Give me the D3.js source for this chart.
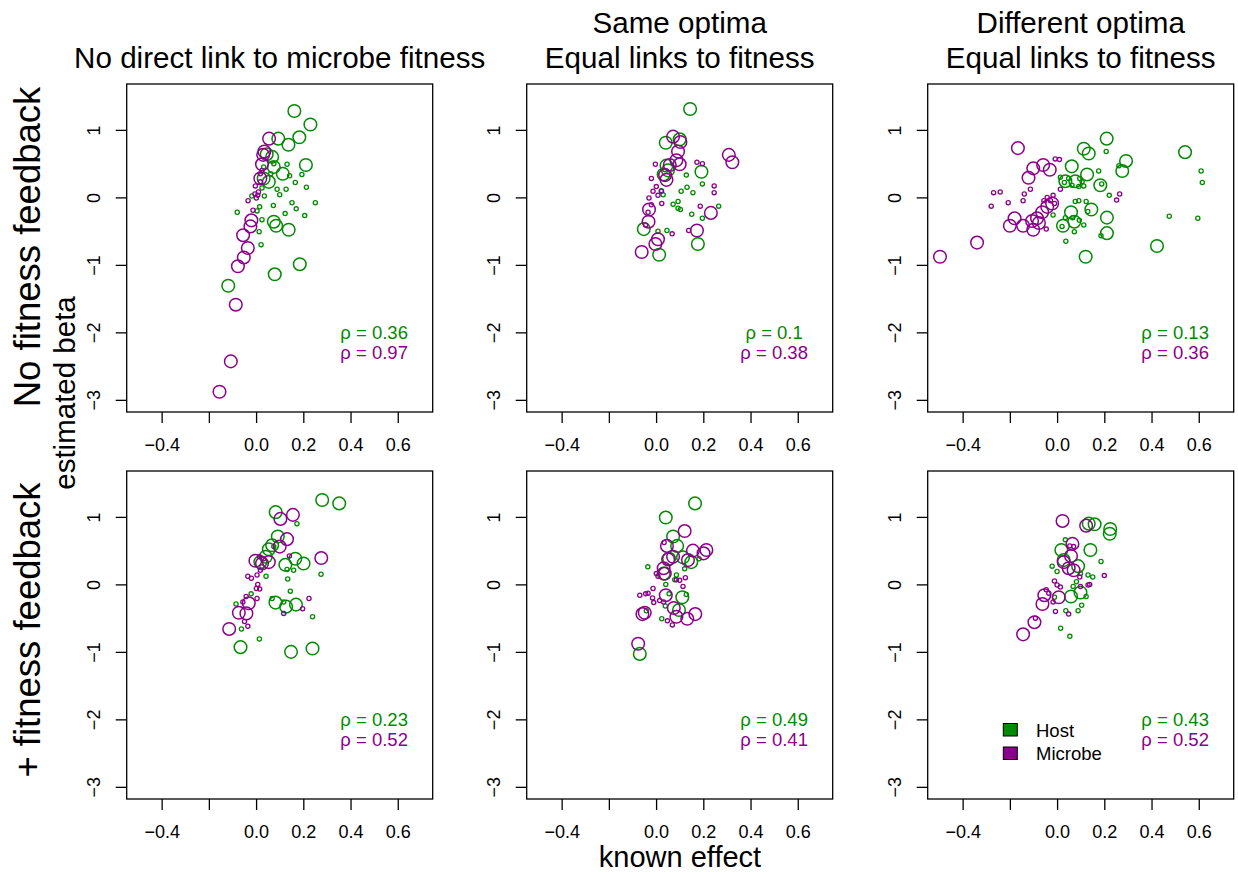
<!DOCTYPE html>
<html>
<head>
<meta charset="utf-8">
<script src="https://cdn.jsdelivr.net/npm/d3@7"></script>
<style>
  body { margin: 0; background: #fff; }
  svg { display: block; }
  text { font-family: "Liberation Sans", Arial, Helvetica, sans-serif; }
</style>
</head>
<body>
<svg id="chart" width="1238" height="872"></svg>
<script>
// Each point: [known effect, estimated beta, causal flag (1 = causal locus, 0 = other)]

// Row 1: no fitness feedback
const hostNoLink = [
  [0.162,1.28,1],[0.230,1.08,1],[0.183,0.89,1],[0.137,0.78,1],[0.094,0.87,1],[0.068,0.60,1],
  [0.045,0.64,1],[0.075,0.45,1],[0.211,0.48,1],[0.113,0.35,1],[0.032,0.28,1],[0.054,0.23,1],
  [0.075,-0.36,1],[0.085,-0.42,1],[0.138,-0.48,1],[0.185,-0.99,1],[0.079,-1.14,1],[-0.118,-1.31,1],
  [0.131,0.49,0],[0.075,0.50,0],[0.142,0.32,0],[0.194,0.34,0],[0.166,0.22,0],[0.213,0.15,0],
  [0.127,0.12,0],[0.089,0.12,0],[0.100,0.04,0],[0.035,0.02,0],[0.025,0.14,0],[-0.018,0.02,0],
  [0.152,-0.08,0],[0.251,-0.08,0],[0.170,-0.17,0],[0.073,-0.12,0],[0.123,-0.24,0],[0.206,-0.27,0],
  [-0.080,-0.22,0],[0.015,-0.14,0],[0.004,-0.20,0],[0.025,-0.33,0],[0.013,-0.51,0],[0.021,-0.70,0],
  [0.032,0.45,0],[0.062,0.35,0]
];
const microbeNoLink = [
  [0.055,0.87,1],[0.035,0.68,1],[0.030,0.63,1],[0.025,0.49,1],[0.018,0.28,1],[-0.020,-0.34,1],
  [-0.024,-0.43,1],[-0.055,-0.56,1],[-0.035,-0.75,1],[-0.052,-0.89,1],[-0.077,-1.02,1],[-0.086,-1.59,1],
  [-0.107,-2.43,1],[-0.155,-2.88,1],
  [0.025,0.40,0],[0.018,0.35,0],[-0.003,0.17,0],[0.007,0.03,0],[0.001,-0.01,0],[-0.034,-0.05,0],
  [-0.013,-0.19,0],[0.018,0.23,0],[0.010,0.08,0],[-0.005,0.05,0]
];
const hostSameOpt = [
  [0.144,1.31,1],[0.041,0.81,1],[0.100,0.86,1],[0.044,0.47,1],[0.032,0.34,1],[0.192,0.38,1],
  [-0.052,-0.47,1],[0.177,-0.69,1],[0.013,-0.85,1],[0.050,0.40,1],
  [0.128,0.33,0],[0.131,0.15,0],[0.106,0.09,0],[0.156,0.07,0],[0.196,0.20,0],[0.072,-0.10,0],
  [0.093,-0.06,0],[0.093,-0.16,0],[0.103,-0.18,0],[0.151,-0.25,0],[0.196,-0.31,0],[0.265,-0.13,0],
  [0.008,-0.50,0],[0.046,-0.49,0],[0.030,0.04,0],[0.022,0.10,0]
];
const microbeSameOpt = [
  [0.072,0.90,1],[0.103,0.82,1],[0.093,0.68,1],[0.086,0.55,1],[0.100,0.49,1],[0.058,0.48,1],
  [0.038,0.33,1],[0.044,0.26,1],[0.308,0.63,1],[0.323,0.52,1],[-0.030,-0.18,1],[-0.032,-0.36,1],
  [0.232,-0.23,1],[0.173,-0.49,1],[0.008,-0.62,1],[-0.003,-0.69,1],[-0.061,-0.81,1],
  [-0.003,0.49,0],[-0.020,0.28,0],[0.001,0.16,0],[-0.013,0.09,0],[0.023,0.09,0],[-0.030,-0.01,0],
  [0.008,0.03,0],[0.024,-0.09,0],[-0.020,-0.11,0],[-0.034,-0.22,0],[-0.044,-0.41,0],[0.173,0.52,0],
  [0.196,0.50,0],[0.246,0.17,0],[0.246,0.07,0],[0.187,-0.13,0],[0.138,-0.49,0],[0.068,-0.54,0]
];
const hostDiffOpt = [
  [0.210,0.87,1],[0.113,0.72,1],[0.134,0.65,1],[0.292,0.54,1],[0.276,0.39,1],[0.542,0.67,1],
  [0.062,0.46,1],[0.127,0.34,1],[0.183,0.18,1],[0.077,0.24,1],[0.035,0.24,1],[0.059,-0.22,1],
  [0.145,-0.18,1],[0.211,-0.30,1],[0.211,-0.53,1],[0.025,-0.42,1],[0.073,-0.36,1],[0.423,-0.72,1],
  [0.121,-0.88,1],
  [0.208,0.68,0],[0.176,0.39,0],[0.262,0.47,0],[0.610,0.39,0],[0.615,0.22,0],[0.221,0.03,0],
  [0.189,0.20,0],[0.014,0.30,0],[0.031,0.22,0],[0.049,0.28,0],[0.063,0.18,0],[0.092,0.16,0],
  [0.106,0.23,0],[0.113,0.17,0],[0.096,0.28,0],[0.077,-0.06,0],[0.092,-0.05,0],[0.123,-0.06,0],
  [0.475,-0.28,0],[0.596,-0.31,0],[-0.017,-0.26,0],[0.035,-0.30,0],[0.066,-0.30,0],[0.094,-0.34,0],
  [0.113,-0.41,0],[0.021,-0.43,0],[0.073,-0.51,0],[0.037,-0.65,0],[0.186,-0.57,0],[0.130,-0.21,0]
];
const microbeDiffOpt = [
  [-0.166,0.73,1],[-0.101,0.43,1],[-0.059,0.48,1],[-0.031,0.41,1],[-0.121,0.29,1],[-0.180,-0.31,1],
  [-0.200,-0.42,1],[-0.144,-0.42,1],[-0.106,-0.35,1],[-0.101,-0.48,1],[-0.085,-0.31,1],[-0.063,-0.22,1],
  [-0.042,-0.14,1],[-0.021,-0.09,1],[-0.077,-0.38,1],[-0.339,-0.67,1],[-0.496,-0.88,1],
  [-0.008,0.57,0],[0.010,0.56,0],[-0.269,0.07,0],[-0.241,0.08,0],[-0.207,-0.08,0],[-0.279,-0.13,0],
  [-0.139,0.05,0],[-0.144,-0.05,0],[-0.113,0.12,0],[-0.042,0.00,0],[-0.017,0.03,0],[-0.056,-0.05,0],
  [-0.028,-0.05,0],[-0.011,-0.09,0],[0.265,0.05,0],[0.252,-0.04,0],[0.014,0.12,0],[-0.046,-0.47,0]
];

// Row 2: with fitness feedback
const hostNoLinkFb = [
  [0.280,1.25,1],[0.352,1.20,1],[0.083,1.07,1],[0.092,0.71,1],[0.068,0.58,1],[0.054,0.52,1],
  [0.041,0.41,1],[0.166,0.38,1],[0.201,0.31,1],[0.124,0.29,1],[0.082,-0.27,1],[0.127,-0.33,1],
  [0.169,-0.30,1],[-0.066,-0.93,1],[0.148,-1.00,1],[0.239,-0.95,1],[0.018,0.33,1],
  [0.173,0.90,0],[0.275,0.15,0],[0.131,0.22,0],[0.159,0.21,0],[0.134,0.08,0],[0.145,-0.10,0],
  [0.239,-0.48,0],[0.068,-0.21,0],[0.117,-0.26,0],[-0.021,-0.14,0],[-0.085,-0.29,0],[-0.062,-0.66,0],
  [0.014,-0.81,0],[0.042,0.12,0],[0.025,0.26,0],[0.075,0.56,0]
];
const microbeNoLinkFb = [
  [0.103,0.97,1],[0.156,1.03,1],[0.131,0.67,1],[0.100,0.56,1],[0.276,0.39,1],[-0.003,0.35,1],
  [0.054,0.33,1],[0.025,0.31,1],[-0.031,-0.28,1],[-0.073,-0.42,1],[-0.041,-0.43,1],[-0.114,-0.66,1],
  [0.141,0.42,0],[-0.035,0.12,0],[-0.020,0.09,0],[0.004,0.14,0],[0.007,0.00,0],[0.001,-0.06,0],
  [0.015,-0.07,0],[0.004,-0.21,0],[-0.042,-0.18,0],[-0.056,-0.26,0],[-0.049,-0.55,0],[-0.035,-0.62,0],
  [0.117,-0.43,0],[0.197,-0.36,0],[0.224,-0.21,0],[0.018,0.21,0],[0.032,0.38,0],[0.015,0.41,0]
];
const hostSameOptFb = [
  [0.165,1.20,1],[0.041,0.99,1],[0.072,0.71,1],[0.089,0.57,1],[0.055,0.38,1],[0.114,0.40,1],
  [0.149,0.33,1],[0.111,-0.19,1],[0.097,-0.38,1],[-0.069,-1.03,1],[0.032,0.16,1],
  [-0.035,0.26,0],[0.121,0.23,0],[0.079,0.07,0],[0.041,0.00,0],[0.128,-0.15,0],[0.055,-0.14,0],
  [0.039,-0.32,0],[0.024,-0.51,0],[-0.041,-0.39,0],[0.086,0.14,0],[0.182,0.38,0]
];
const microbeSameOptFb = [
  [0.121,0.79,1],[0.046,0.57,1],[0.156,0.50,1],[0.213,0.51,1],[0.201,0.46,1],[0.135,0.36,1],
  [0.072,0.41,1],[0.051,0.37,1],[0.032,0.24,1],[0.037,0.16,1],[0.041,-0.16,1],[0.075,-0.35,1],
  [0.166,-0.44,1],[0.132,-0.51,1],[0.086,-0.48,1],[-0.058,-0.44,1],[-0.048,-0.42,1],[-0.076,-0.88,1],
  [0.034,0.62,0],[-0.069,-0.16,0],[-0.044,-0.14,0],[-0.034,-0.13,0],[-0.013,-0.06,0],[-0.015,-0.20,0],
  [-0.010,-0.27,0],[0.015,-0.24,0],[0.032,-0.26,0],[0.048,-0.54,0],[0.069,-0.60,0],[0.086,0.07,0],
  [0.114,-0.03,0],[0.124,0.10,0],[0.100,0.06,0],[0.008,0.12,0],[0.001,0.16,0]
];
const hostDiffOptFb = [
  [0.134,0.90,1],[0.159,0.89,1],[0.225,0.82,1],[0.223,0.75,1],[0.141,0.51,1],[0.018,0.51,1],
  [0.089,0.27,1],[0.059,-0.18,1],[0.099,-0.12,1],[0.028,0.36,1],
  [0.035,0.66,0],[0.186,0.34,0],[-0.021,0.27,0],[0.000,0.19,0],[0.131,0.14,0],[0.151,0.11,0],
  [0.123,-0.18,0],[0.104,-0.31,0],[0.037,-0.39,0],[0.089,-0.39,0],[-0.011,-0.19,0],[0.015,-0.65,0],
  [0.054,-0.77,0],[0.068,-0.03,0],[0.082,0.04,0],[0.099,0.16,0]
];
const microbeDiffOptFb = [
  [0.023,0.94,1],[0.123,0.87,1],[0.065,0.60,1],[0.059,0.42,1],[0.028,0.33,1],[0.049,0.24,1],
  [0.070,0.21,1],[0.007,-0.19,1],[-0.054,-0.16,1],[-0.062,-0.29,1],[-0.096,-0.56,1],[-0.144,-0.74,1],
  [0.054,0.57,0],[0.070,0.56,0],[0.200,0.13,0],[-0.011,0.05,0],[0.000,-0.01,0],[0.014,-0.04,0],
  [0.099,-0.03,0],[0.131,-0.01,0],[0.138,0.00,0],[-0.046,-0.08,0],[-0.035,-0.13,0],[-0.017,-0.26,0],
  [-0.007,-0.40,0],[0.049,-0.44,0],[-0.092,-0.50,0],[0.096,0.11,0]
];

// Spearman correlations printed in each panel (row-major order)
const hostRho = [0.36, 0.1, 0.13, 0.23, 0.49, 0.43];
const microbeRho = [0.97, 0.38, 0.36, 0.52, 0.41, 0.52];

const columnTitles = [
  ["No direct link to microbe fitness"],
  ["Same optima", "Equal links to fitness"],
  ["Different optima", "Equal links to fitness"]
];
const rowTitles = ["No fitness feedback", "+ fitness feedback"];
const seriesNames = ["Host", "Microbe"];

const xTicks = [-0.4, -0.2, 0, 0.2, 0.4, 0.6];
const xTickLabels = ["\u22120.4", "", "0.0", "0.2", "0.4", "0.6"];
const yTicks = [1, 0, -1, -2, -3];
const yTickLabels = ["1", "0", "\u22121", "\u22122", "\u22123"];
const xLimits = [-0.5, 0.7];
const yLimits = [-3, 1.5];

const panelData = [
  [hostNoLink, microbeNoLink], [hostSameOpt, microbeSameOpt], [hostDiffOpt, microbeDiffOpt],
  [hostNoLinkFb, microbeNoLinkFb], [hostSameOptFb, microbeSameOptFb], [hostDiffOptFb, microbeDiffOptFb]
];

// ---- layout ----
const svg = d3.select("#chart");
const colors = ["#008B00", "#8B008B"];
const colLeft = [126.7, 526.7, 927.7];
const rowTop = [84, 471];
const panelW = 306, panelH = 328;
const font = '"Liberation Sans", Arial, Helvetica, sans-serif';

// R-style 4% expansion of the axis limits
function expand([lo, hi]) { const p = (hi - lo) * 0.04; return [lo - p, hi + p]; }
const radius = d3.scaleOrdinal().domain([0, 1]).range([2.1, 6.3]);

panelData.forEach((series, i) => {
  const r = Math.floor(i / 3), c = i % 3;
  const left = colLeft[c], top = rowTop[r];
  const x = d3.scaleLinear().domain(expand(xLimits)).range([left, left + panelW]);
  const y = d3.scaleLinear().domain(expand(yLimits)).range([top + panelH, top]);
  const g = svg.append("g");

  // points: host then microbe
  series.forEach((pts, s) => {
    g.append("g").selectAll("circle").data(pts).join("circle")
      .attr("cx", d => x(d[0])).attr("cy", d => y(d[1]))
      .attr("r", d => radius(d[2]))
      .attr("fill", "none").attr("stroke", colors[s])
      .attr("stroke-width", d => d[2] ? 1.5 : 1.3);
  });

  // axes
  const xAxis = g.append("g").attr("transform", `translate(0,${top + panelH})`)
    .call(d3.axisBottom(x).tickValues(xTicks).tickSize(11).tickPadding(15)
      .tickFormat((d, k) => xTickLabels[k]));
  xAxis.select(".domain").remove();
  xAxis.selectAll("line").attr("stroke", "#000").attr("stroke-width", 1.3);
  xAxis.selectAll("text").attr("font-size", 18).attr("font-family", font).attr("fill", "#000");

  const yAxis = g.append("g").attr("transform", `translate(${left},0)`)
    .call(d3.axisLeft(y).tickValues(yTicks).tickSize(11).tickFormat((d, k) => yTickLabels[k]));
  yAxis.select(".domain").remove();
  yAxis.selectAll("line").attr("stroke", "#000").attr("stroke-width", 1.3);
  yAxis.selectAll("text")
    .attr("x", null).attr("dy", null)
    .attr("transform", "translate(-26.5,0) rotate(-90)")
    .attr("text-anchor", "middle")
    .attr("font-size", 18).attr("font-family", font).attr("fill", "#000");

  // box
  g.append("rect").attr("x", left).attr("y", top).attr("width", panelW).attr("height", panelH)
    .attr("fill", "none").attr("stroke", "#000").attr("stroke-width", 1.3);

  // correlation labels
  [hostRho[i], microbeRho[i]].forEach((v, s) => {
    g.append("text").attr("x", x(0.5)).attr("y", y(s === 0 ? -2 : -2.3)).attr("dy", "0.36em")
      .attr("text-anchor", "middle").attr("font-size", 18.5).attr("fill", colors[s])
      .text(`\u03C1 = ${v}`);
  });

  // column titles over the top row
  if (r === 0) {
    const lines = columnTitles[c];
    lines.forEach((t, k) => {
      svg.append("text").attr("x", left + panelW / 2)
        .attr("y", 68.3 - (lines.length - 1 - k) * 35)
        .attr("text-anchor", "middle").attr("font-size", 29.6).text(t);
    });
  }

  // legend in the last panel
  if (i === 5) {
    const lg = g.append("g");
    seriesNames.forEach((name, s) => {
      lg.append("rect").attr("x", left + 75.6).attr("y", 723.5 + s * 23.5)
        .attr("width", 14).attr("height", 12.5)
        .attr("fill", colors[s]).attr("stroke", "#000").attr("stroke-width", 1);
      lg.append("text").attr("x", left + 108.3).attr("y", 736.7 + s * 23)
        .attr("font-size", 18.5).text(name);
    });
  }
});

// row titles
const rowCenters = [247, 630];
rowTitles.forEach((t, k) => {
  svg.append("text").attr("transform", `translate(40,${rowCenters[k]}) rotate(-90)`)
    .attr("text-anchor", "middle").attr("font-size", 36.5).text(t);
});

// shared axis titles
svg.append("text").attr("transform", "translate(75,393) rotate(-90)")
  .attr("text-anchor", "middle").attr("font-size", 29.5).text("estimated beta");
svg.append("text").attr("x", 680).attr("y", 867)
  .attr("text-anchor", "middle").attr("font-size", 29).text("known effect");
</script>
</body>
</html>
